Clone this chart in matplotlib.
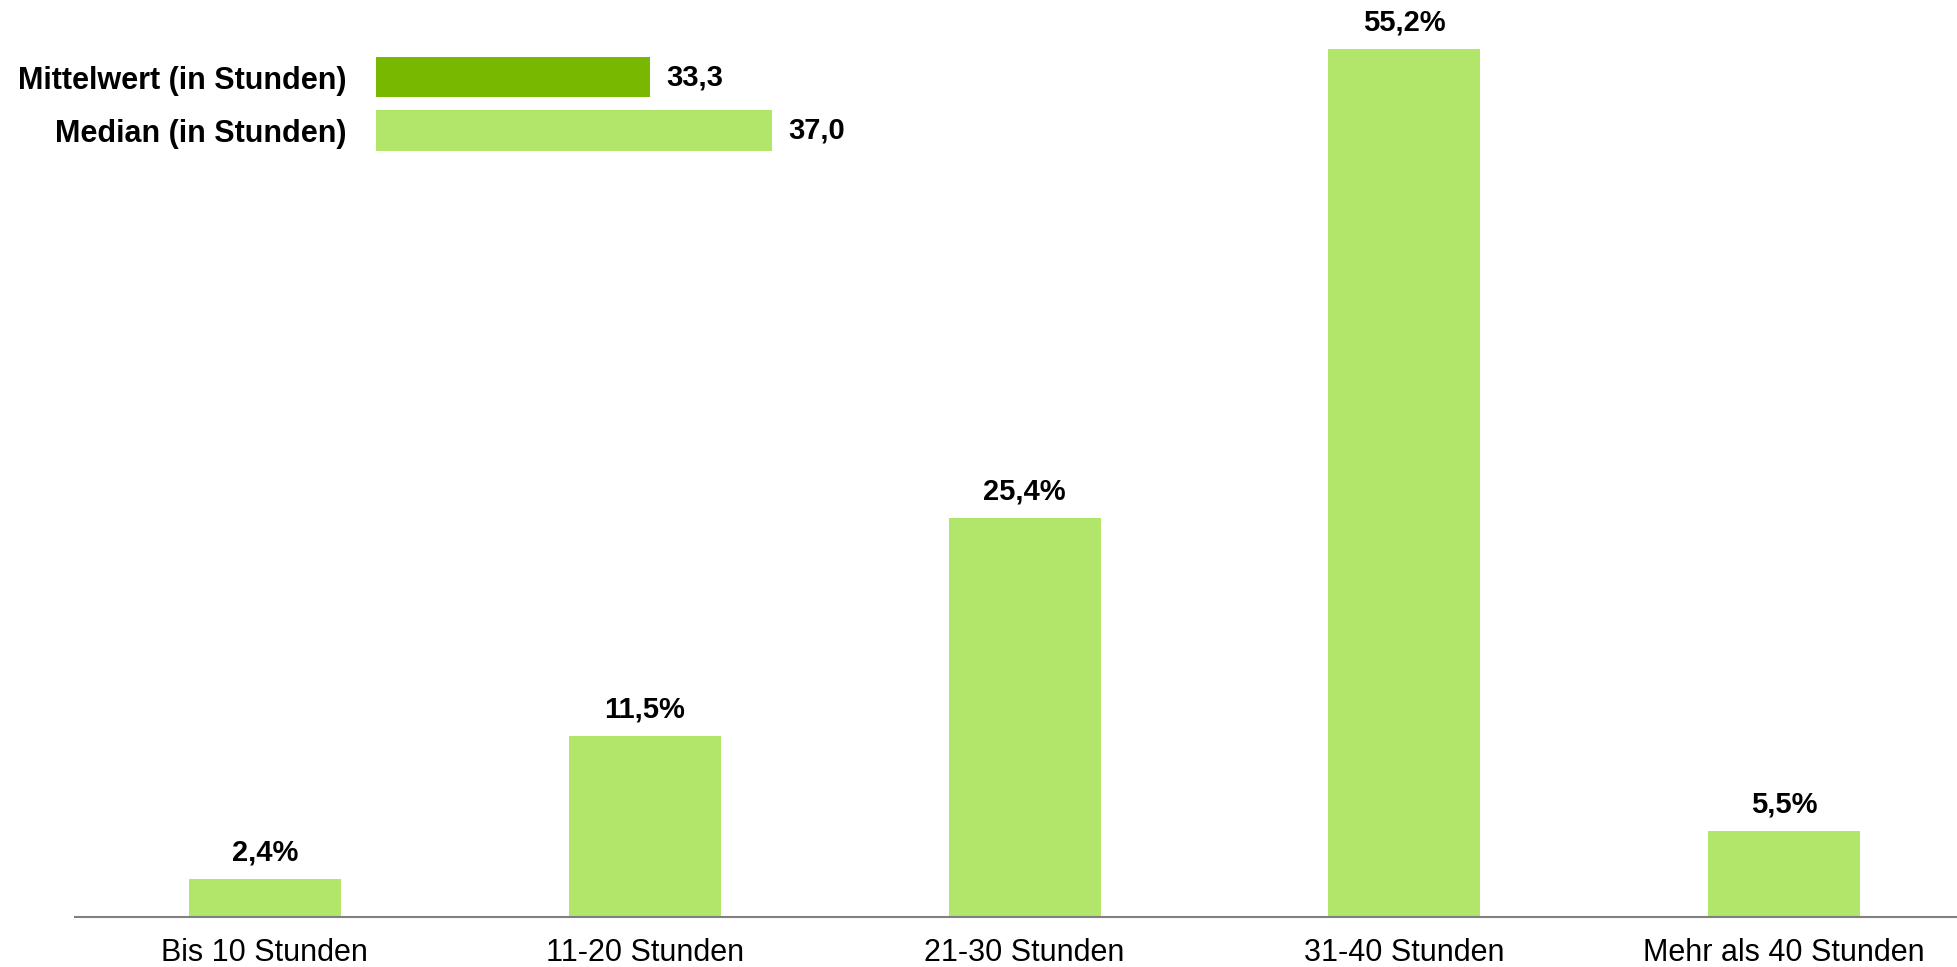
import numpy as np
from matplotlib import pyplot as plt

categories = ['Bis 10 Stunden', '11-20 Stunden', '21-30 Stunden', '31-40 Stunden', 'Mehr als 40 Stunden']
shares = [2.4, 11.5, 25.4, 55.2, 5.5]

stat_labels = ['Mittelwert (in Stunden)', 'Median (in Stunden)']
stat_values = [33.3, 37.0]

light = '#b2e66b'
dark = '#78b800'

plt.rcParams['font.family'] = ['Liberation Sans', 'DejaVu Sans']

fig = plt.figure(figsize=(19.57, 9.67), dpi=100)
ax = fig.add_axes([75 / 1957, 50 / 967, 1 - 75 / 1957, 917 / 967])

x = np.arange(len(categories))
ax.bar(x, shares, width=0.4, color=light)
for xi, v in zip(x, shares):
    ax.annotate(f'{v:.1f}%'.replace('.', ','), (xi, v), xytext=(0, 9), textcoords='offset points',
                ha='center', va='bottom', fontsize=21, fontweight='bold')

ax.set_xlim(-0.5, 4.455)
ax.set_ylim(0, 58.33)
ax.set_xticks(x)
ax.set_xticklabels(categories, fontsize=22)
ax.tick_params(axis='x', length=0, pad=15)
ax.set_yticks([])
for s in ['top', 'right', 'left']:
    ax.spines[s].set_visible(False)
ax.spines['bottom'].set_color('#808080')
ax.spines['bottom'].set_linewidth(1.5)

# inset with mean / median
ins = fig.add_axes([376 / 1957, 1 - 157.25 / 967, 524 / 1957, 107 / 967])
ins.barh([0, 1], stat_values, height=0.75, color=[dark, light], left=0)
ins.set_xlim(25, 25 + 524 / 33.0)
ins.set_ylim(1.5, -0.5)
for yi, v in enumerate(stat_values):
    ins.annotate(f'{v:.1f}'.replace('.', ','), (v, yi), xytext=(12, 0), textcoords='offset points',
                 ha='left', va='center', fontsize=21, fontweight='bold')
ins.set_yticks([0, 1])
ins.set_yticklabels(stat_labels, fontsize=22, fontweight='bold')
ins.tick_params(axis='y', length=0, pad=21)
ins.set_xticks([])
for s in ins.spines.values():
    s.set_visible(False)
ins.patch.set_alpha(0)

plt.savefig('out.png', dpi=100)
